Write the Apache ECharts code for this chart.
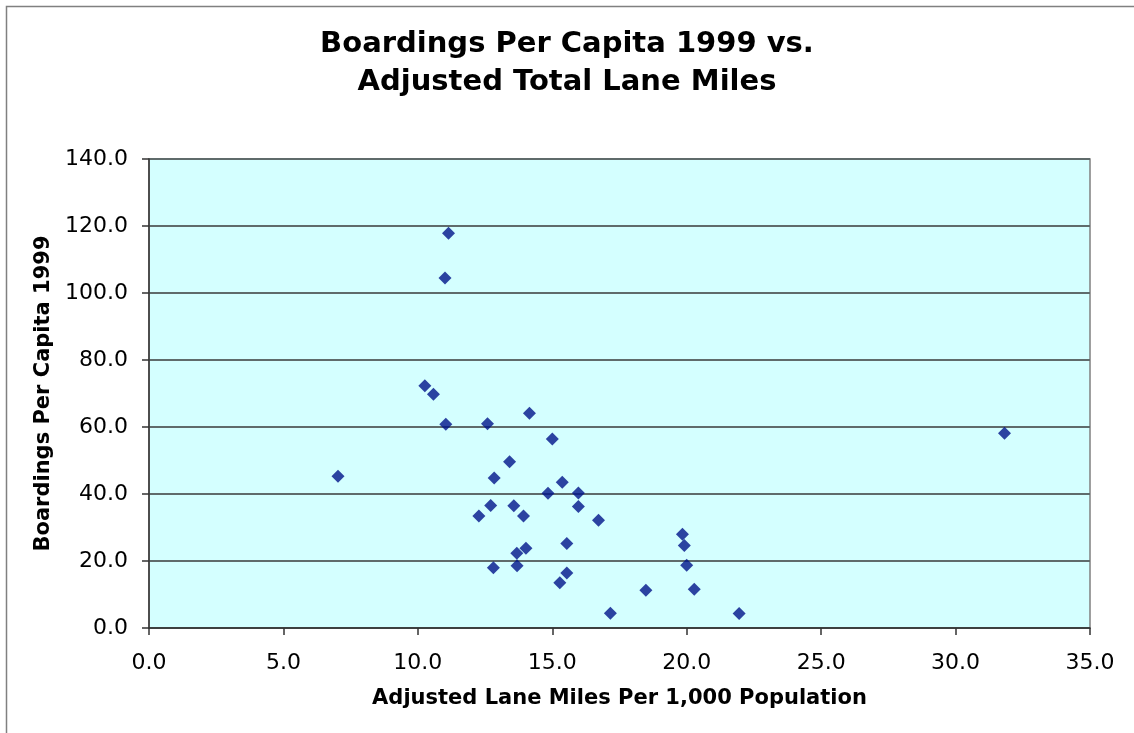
<!DOCTYPE html>
<html>
<head>
<meta charset="utf-8">
<script src="https://cdn.jsdelivr.net/npm/echarts@6/dist/echarts.min.js"></script>
<style>
  html, body { margin: 0; padding: 0; background: #ffffff; }
  #chart { width: 1134px; height: 733px; }
</style>
</head>
<body>
<div id="chart"></div>
<script>
// Adjusted lane miles per 1,000 population (x) and boardings per capita 1999 (y)
const laneMiles = [
  11.14, 11.01, 10.26, 10.58, 11.04, 12.59, 14.15, 15.00, 13.41, 7.03,
  12.84, 15.37, 14.84, 15.97, 15.97, 12.71, 13.57, 12.27, 13.93, 16.72,
  15.54, 14.02, 13.68, 12.81, 13.69, 15.54, 15.28, 19.84, 19.91, 20.00,
  20.28, 18.48, 17.16, 21.95, 31.82
];
const boardings = [
  117.8, 104.5, 72.3, 69.8, 60.8, 61.0, 64.1, 56.4, 49.6, 45.3,
  44.8, 43.5, 40.2, 40.3, 36.3, 36.6, 36.5, 33.4, 33.4, 32.2,
  25.2, 23.8, 22.3, 18.0, 18.6, 16.4, 13.5, 28.0, 24.6, 18.7,
  11.6, 11.3, 4.4, 4.3, 58.1
];

const titleLines = ['Boardings Per Capita 1999 vs.', 'Adjusted Total Lane Miles'];
const xAxisTitle = 'Adjusted Lane Miles Per 1,000 Population';
const yAxisTitle = 'Boardings Per Capita 1999';

const points = laneMiles.map((x, i) => [x, boardings[i]]);

const FONT = '"DejaVu Sans", Verdana, sans-serif';

const chart = echarts.init(document.getElementById('chart'), null, { renderer: 'canvas' });
chart.setOption({
  backgroundColor: '#ffffff',
  animation: false,
  graphic: [{
    // outer chart frame
    type: 'rect',
    left: 4, top: 4,
    shape: { width: 1150, height: 750 },
    style: { fill: 'none', stroke: '#808080', lineWidth: 1.5 },
    silent: true,
    z: -10
  }],
  title: {
    text: titleLines.join('\n'),
    left: 'center',
    top: 20,
    textStyle: {
      fontFamily: FONT,
      fontWeight: 'bold',
      fontSize: 29,
      lineHeight: 38,
      color: '#000000'
    }
  },
  grid: {
    left: 149,
    right: 44,
    top: 159,
    bottom: 105,
    show: true,
    backgroundColor: '#D4FFFF',
    borderColor: '#808080',
    borderWidth: 1.5
  },
  xAxis: {
    type: 'value',
    min: 0,
    max: 35,
    interval: 5,
    name: xAxisTitle,
    nameLocation: 'middle',
    nameGap: 60,
    nameTextStyle: { fontFamily: FONT, fontWeight: 'bold', fontSize: 21, color: '#000' },
    axisLine: { show: true, lineStyle: { color: '#333333', width: 1.5 } },
    axisTick: { show: true, inside: false, length: 7, lineStyle: { color: '#333333', width: 1.5 } },
    axisLabel: {
      fontFamily: FONT, fontSize: 22, color: '#000', margin: 24,
      formatter: v => v.toFixed(1)
    },
    splitLine: { show: false }
  },
  yAxis: {
    type: 'value',
    min: 0,
    max: 140,
    interval: 20,
    name: yAxisTitle,
    nameLocation: 'middle',
    nameGap: 95,
    nameRotate: 90,
    nameTextStyle: { fontFamily: FONT, fontWeight: 'bold', fontSize: 21, color: '#000' },
    axisLine: { show: true, lineStyle: { color: '#333333', width: 1.5 } },
    axisTick: { show: true, inside: false, length: 7, lineStyle: { color: '#333333', width: 1.5 } },
    axisLabel: {
      fontFamily: FONT, fontSize: 22, color: '#000', margin: 21,
      formatter: v => v.toFixed(1)
    },
    splitLine: { show: true, lineStyle: { color: '#5f6b6b', width: 2 } }
  },
  series: [{
    type: 'scatter',
    data: points,
    symbol: 'diamond',
    symbolSize: 13,
    itemStyle: { color: '#001489' }
  }]
});
</script>
</body>
</html>
